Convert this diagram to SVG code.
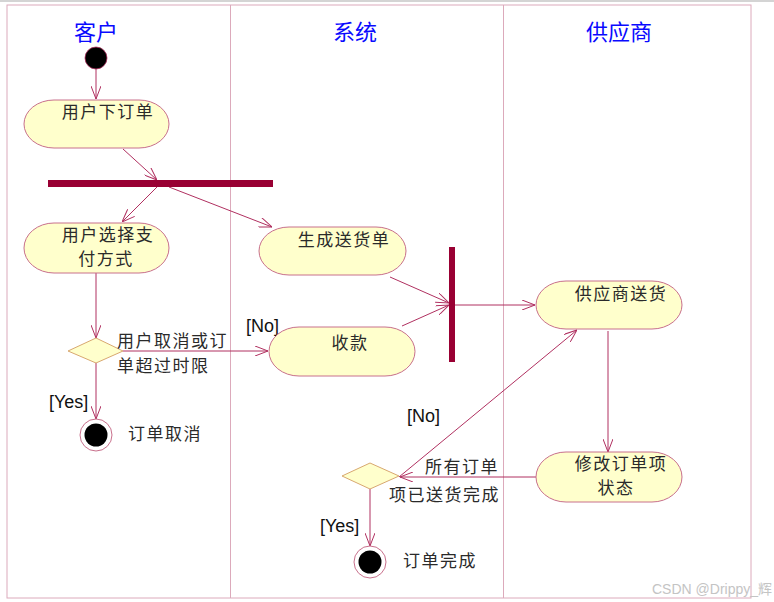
<svg xmlns="http://www.w3.org/2000/svg" width="774" height="602" viewBox="0 0 774 602">
<defs>
<style>
.lane{fill:none;stroke:#dcaabb;stroke-width:1}
.hdr{font-family:"Noto Sans CJK SC",sans-serif;font-size:22px;fill:#0a0aff;text-anchor:middle}
.node{fill:#ffffcc;stroke:#c8708c;stroke-width:1}
.dia{fill:#ffffcc;stroke:#d8a870;stroke-width:1}
.bar{fill:#990033}
.t{font-family:"Noto Sans CJK SC",sans-serif;font-size:17px;fill:#2a2a2a;letter-spacing:1.5px}
.tm{font-family:"Noto Sans CJK SC",sans-serif;font-size:17px;fill:#2a2a2a;text-anchor:middle;letter-spacing:1.5px}
.g{font-family:"Liberation Sans",Arial,sans-serif;font-size:18px;fill:#111}
.e{fill:none;stroke:#b03060;stroke-width:1}
</style>
<marker id="ah" viewBox="0 0 13 10" refX="13" refY="5" markerWidth="13" markerHeight="10" markerUnits="userSpaceOnUse" orient="auto">
<path d="M0,0 L13,5 L0,10" fill="none" stroke="#b03060" stroke-width="1"/>
</marker>
</defs>
<rect x="0" y="0" width="774" height="602" fill="#ffffff"/>
<rect x="0" y="0" width="774" height="2" fill="#d4d4d4"/>
<g id="lanes">
<rect class="lane" x="7" y="5" width="744" height="593"/>
<line class="lane" x1="230.5" y1="5" x2="230.5" y2="598"/>
<line class="lane" x1="503.5" y1="5" x2="503.5" y2="598"/>
<text class="hdr" x="96" y="40">客户</text>
<text class="hdr" x="355" y="40">系统</text>
<text class="hdr" x="619" y="40">供应商</text>
</g>
<g id="connectors">
<line class="e" x1="96" y1="69" x2="96" y2="99" marker-end="url(#ah)"/>
<line class="e" x1="123" y1="149" x2="157" y2="180" marker-end="url(#ah)"/>
<line class="e" x1="157" y1="187" x2="122" y2="222" marker-end="url(#ah)"/>
<line class="e" x1="169" y1="187" x2="272" y2="227" marker-end="url(#ah)"/>
<line class="e" x1="96" y1="273" x2="96" y2="338" marker-end="url(#ah)"/>
<line class="e" x1="123" y1="351" x2="268" y2="351" marker-end="url(#ah)"/>
<line class="e" x1="96" y1="363" x2="96" y2="419" marker-end="url(#ah)"/>
<line class="e" x1="390" y1="277" x2="449" y2="303" marker-end="url(#ah)"/>
<line class="e" x1="402" y1="326" x2="449" y2="305" marker-end="url(#ah)"/>
<line class="e" x1="455" y1="305" x2="535" y2="305" marker-end="url(#ah)"/>
<line class="e" x1="608" y1="331" x2="608" y2="452" marker-end="url(#ah)"/>
<line class="e" x1="536" y1="477" x2="400" y2="477" marker-end="url(#ah)"/>
<line class="e" x1="399" y1="477" x2="577" y2="330" marker-end="url(#ah)"/>
<line class="e" x1="370" y1="489" x2="370" y2="546" marker-end="url(#ah)"/>
<text class="g" x="246" y="332">[No]</text>
<text class="g" x="49" y="408">[Yes]</text>
<text class="g" x="407" y="422">[No]</text>
<text class="g" x="320" y="532">[Yes]</text>
</g>
<g id="start">
<circle cx="96" cy="58" r="11" fill="#000" stroke="#b03060" stroke-width="0.8"/>
</g>
<g id="n1">
<rect class="node" x="24" y="100" width="145" height="48" rx="30" ry="24"/>
<text class="tm" x="108" y="118">用户下订单</text>
</g>
<g id="fork1">
<rect class="bar" x="48" y="180" width="225" height="7"/>
</g>
<g id="n2">
<rect class="node" x="24" y="223" width="145" height="50" rx="30" ry="25"/>
<text class="tm" x="108" y="241">用户选择支</text>
<text class="tm" x="106" y="265">付方式</text>
</g>
<g id="d1">
<polygon class="dia" points="68,351 96,338 123,351 96,363"/>
<text class="t" x="117" y="347">用户取消或订</text>
<text class="t" x="117" y="372">单超过时限</text>
</g>
<g id="end1">
<circle cx="96" cy="435" r="16" fill="#fff" stroke="#c8708c" stroke-width="1"/>
<circle cx="96" cy="435" r="11.5" fill="#000"/>
<text class="t" x="128" y="440">订单取消</text>
</g>
<g id="n3">
<rect class="node" x="259" y="227" width="147" height="48" rx="30" ry="24"/>
<text class="tm" x="344" y="246">生成送货单</text>
</g>
<g id="n4">
<rect class="node" x="269" y="327" width="146" height="49" rx="30" ry="24.5"/>
<text class="tm" x="350" y="349">收款</text>
</g>
<g id="join1">
<rect class="bar" x="449" y="247" width="6" height="115"/>
</g>
<g id="n5">
<rect class="node" x="536" y="281" width="146" height="48" rx="30" ry="24"/>
<text class="tm" x="621" y="300">供应商送货</text>
</g>
<g id="n6">
<rect class="node" x="536" y="452" width="146" height="50" rx="30" ry="25"/>
<text class="tm" x="621" y="470">修改订单项</text>
<text class="tm" x="616" y="494">状态</text>
</g>
<g id="d2">
<polygon class="dia" points="342,476 370,463 399,476 370,489"/>
<text class="t" x="425" y="473">所有订单</text>
<text class="t" x="389" y="501">项已送货完成</text>
</g>
<g id="end2">
<circle cx="370" cy="562" r="16" fill="#fff" stroke="#c8708c" stroke-width="1"/>
<circle cx="370" cy="562" r="11.5" fill="#000"/>
<text class="t" x="403" y="567">订单完成</text>
</g>
<text x="652" y="594" font-family="'Liberation Sans','Noto Sans CJK SC',sans-serif" font-size="14" fill="#c4c4c4">CSDN @Drippy_辉</text>
</svg>
